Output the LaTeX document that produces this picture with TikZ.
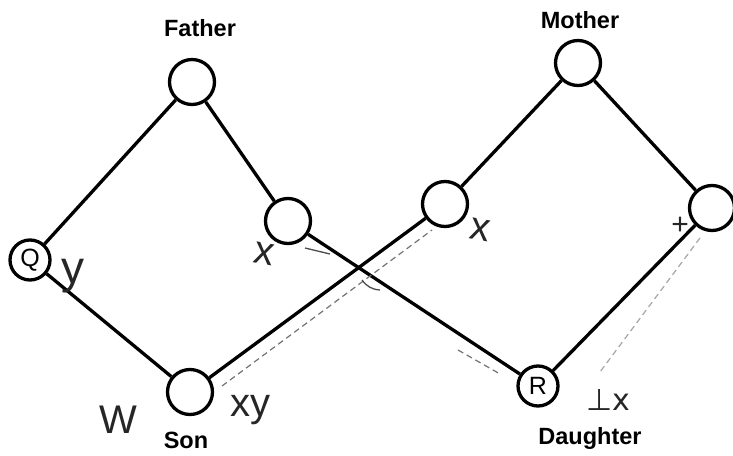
\documentclass[tikz,border=0pt]{standalone}
\usepackage{fontspec}
\setmainfont{Liberation Sans}
\newfontfamily\symfont{DejaVu Sans}
\begin{document}
\begin{tikzpicture}[x=1pt,y=-1pt,
  person/.style={circle,draw=black,line width=3.3pt,minimum size=45pt,inner sep=0pt,
    font=\fontsize{25}{25}\selectfont},
  small/.style={person,minimum size=40pt},
  edge/.style={line width=3.3pt},
  title/.style={font=\fontsize{23.5}{24}\selectfont\bfseries},
  hand/.style={font=\fontsize{40}{40}\selectfont,text=black!85,inner sep=0pt},
  pencil/.style={draw=black!55,line width=1.2pt,dash pattern=on 6pt off 4pt}]
\useasboundingbox (0,0) rectangle (733,455);
\fill[white] (0,0) rectangle (733,455);

% family members
\node[person] (father) at (192,82) {};
\node[person] (mother) at (578,63) {};
\node[person] (fx) at (288,221) {};
\node[person] (mx1) at (445,204) {};
\node[person] (mx2) at (712,208) {};
\node[small] (q) at (30,260) {Q};
\node[person] (son) at (190,392) {};
\node[small] (r) at (538,386) {R};

% titles
\node[title] (tf) at (200,28) {Father};
\node[title] (tm) at (580,20) {Mother};
\node[title] (ts) at (186,440) {Son};
\node[title] (td) at (590,438) {Daughter};

% inheritance lines
\draw[edge] (father) -- (q);
\draw[edge] (father) -- (fx);
\draw[edge] (q) -- (son);
\draw[edge] (son) -- (mx1);
\draw[edge] (mx1) -- (mother);
\draw[edge] (mother) -- (mx2);
\draw[edge] (mx2) -- (r);
\draw[edge] (fx) -- (r);

% pencil traces along the crossing lines
\coordinate (p1) at (222,386);
\coordinate (p2) at (432,230);
\draw[pencil] (p1) -- (p2);
\coordinate (p3) at (305,248);
\coordinate (p4) at (330,254);
\draw[draw=black!70,line width=1.3pt] (p3) -- (p4);
\coordinate (p5) at (362,280);
\coordinate (p6) at (380,290);
\draw[draw=black!70,line width=1.3pt] (p5) to[bend right=25] (p6);
\coordinate (p7) at (458,350);
\coordinate (p8) at (500,374);
\draw[pencil] (p7) -- (p8);
\coordinate (p9) at (700,238);
\coordinate (p10) at (600,372);
\draw[pencil,draw=black!35] (p9) -- (p10);

% handwritten genotype notes
\node[hand,font=\fontsize{46}{46}\selectfont] (hy) at (73,276) {y};
\node[hand,rotate=-10] (hx1) at (264,254) {x};
\node[hand,rotate=-10] (hx2) at (480,230) {x};
\node[hand,font=\fontsize{30}{30}\selectfont] (hx3) at (680,226) {+};
\node[hand] (hxy) at (250,410) {xy};
\node[hand,font=\fontsize{40}{40}\selectfont] (hw) at (118,420) {W};
\node[hand,font=\symfont\fontsize{30}{30}\selectfont] (hr) at (608,400) {⊥x};
\end{tikzpicture}
\end{document}
